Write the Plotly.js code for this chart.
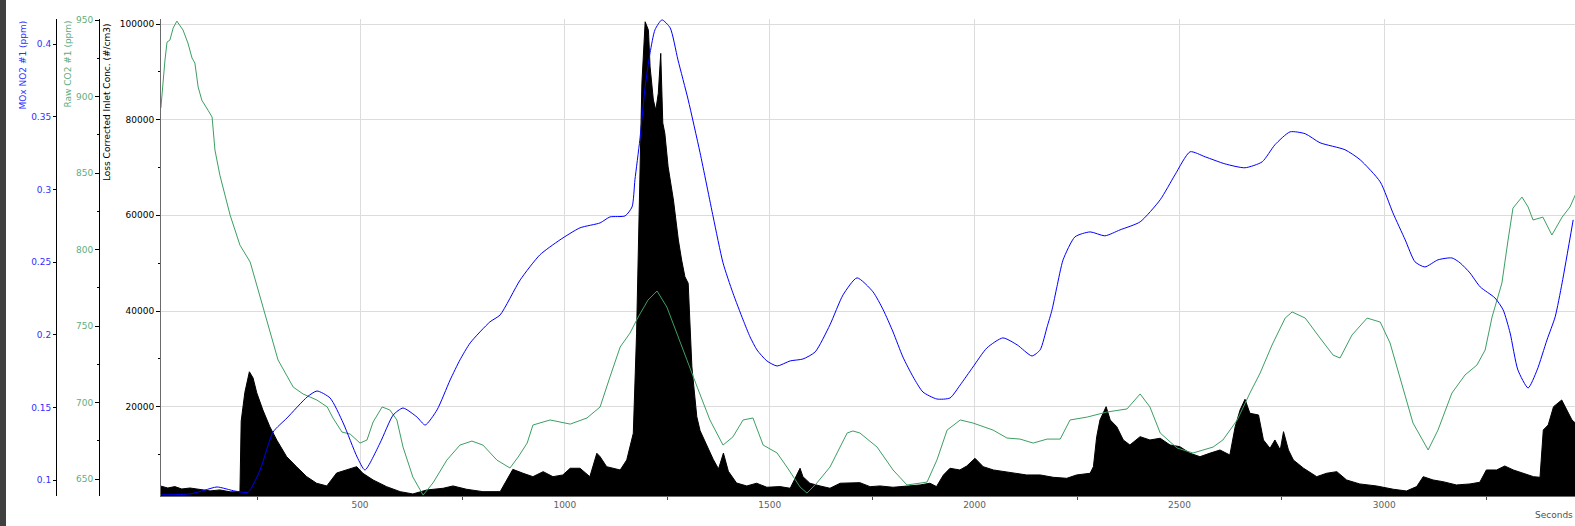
<!DOCTYPE html>
<html>
<head>
<meta charset="utf-8">
<script src="https://cdn.plot.ly/plotly-3.0.1.min.js"></script>
<style>html,body{margin:0;padding:0;background:#fff;}#chart{width:1575px;height:526px;}</style>
</head>
<body>
<div id="chart"></div>
<script>
// Loss corrected inlet concentration (#/cm3)
const concT = [14,31,48,65,85,109,134,158,183,207,210,219,230,239,248,263,280,297,321,345,370,394,419,443,468,492,507,532,565,598,629,663,703,727,760,800,842,858,873,898,922,947,971,995,1013,1037,1061,1078,1086,1102,1118,1135,1151,1167,1175,1182,1188,1196,1204,1208,1216,1222,1228,1234,1239,1244,1252,1265,1277,1285,1293,1301,1310,1322,1330,1346,1362,1375,1387,1399,1419,1444,1468,1493,1525,1550,1574,1581,1598,1623,1647,1672,1696,1720,1745,1769,1801,1834,1867,1891,1907,1924,1940,1964,1981,2001,2021,2046,2070,2095,2127,2160,2192,2225,2249,2282,2290,2298,2306,2321,2331,2347,2363,2379,2404,2428,2453,2477,2501,2526,2550,2575,2599,2623,2636,2648,2660,2672,2693,2705,2721,2733,2746,2754,2766,2778,2803,2835,2859,2884,2908,2940,2981,3022,3054,3079,3095,3119,3143,3176,3209,3233,3249,3274,3294,3315,3339,3364,3380,3388,3400,3413,3433,3445,3458,3466];
const concV = [3400,3000,3300,2800,3000,2700,2400,2600,2200,2200,17000,23000,27300,26000,22900,19300,15800,13000,9550,7460,5370,4000,3430,6140,6770,7460,6080,4680,3280,2240,1760,2590,2950,3430,2740,2240,2240,4680,6900,6080,5370,6420,5370,5730,7130,7130,5370,10260,9550,7460,7130,6770,8860,14440,35340,63200,87600,100470,98700,91060,84100,82000,85500,93860,79300,77140,70160,63200,54840,50660,47170,45800,28360,17900,15000,12000,9000,7000,10300,6500,4050,3430,4000,3160,3300,2950,7130,5370,4000,3430,2950,4000,4000,4120,3280,3430,3160,3430,3640,4000,3300,5730,7130,6770,7600,9210,7460,6770,6420,6080,5730,5730,5240,5030,5730,6080,7460,13730,17220,20000,17220,15820,13040,12000,13730,13040,13400,12000,11640,10260,9550,10300,10950,9900,15820,19310,21550,18620,18270,13040,11300,13040,10950,14780,10950,8860,7130,5370,6080,6420,4680,3850,3430,2740,2380,3300,5370,4680,4330,3640,3850,4200,6770,6770,7600,6770,6080,5370,5240,15130,16180,20000,21400,19310,17220,16600];

// Raw CO2 #1 (ppm)
const co2T = [14,19,24,29,36,44,53,68,80,90,97,105,114,129,139,146,158,183,207,232,251,276,300,337,361,395,420,434,456,476,500,517,532,554,573,590,605,629,654,678,712,744,773,800,834,866,886,908,922,964,1013,1054,1086,1110,1135,1159,1179,1203,1225,1249,1274,1298,1323,1354,1386,1410,1435,1459,1484,1518,1542,1574,1591,1615,1647,1689,1703,1720,1762,1801,1835,1884,1908,1933,1965,1996,2045,2079,2111,2143,2177,2209,2233,2275,2323,2372,2404,2428,2453,2494,2533,2582,2606,2641,2672,2697,2726,2758,2775,2807,2843,2875,2892,2921,2958,2990,3014,3038,3070,3107,3131,3165,3197,3226,3246,3263,3287,3302,3314,3336,3351,3363,3387,3409,3434,3453,3466];
const co2V = [892.5,910.8,923.9,935.6,936.9,944.8,949.3,943.5,935,925.2,921.9,906.2,897.6,891.1,886.6,865,848.6,822.5,802.9,791.8,773.5,750.7,727.8,710.1,705.6,701.6,697.1,689.9,680.7,679.4,673.5,675.5,687.3,697.1,695.1,688.6,670.9,651.3,639.5,647.4,662.4,672.2,674.8,672.2,662.4,657.2,664.4,673.5,685.3,688.6,685.9,689.9,697.1,716.7,736.3,745.4,755.9,767,772.9,762.4,745.4,727.8,710.1,688.6,672.2,677.5,688.6,689.9,672.2,667,657.8,644.8,640.8,647.4,657.8,680.1,681.4,680.1,670.9,655.9,646.1,648,662.4,682,688.6,686.6,682,676.8,676.1,673.5,676.1,676.1,688.6,690.5,693.8,695.8,705.6,697.1,680.1,670.3,667,670.9,675.5,688.6,706.2,719.3,737.6,755.2,759.2,755.2,742.2,731,729.1,744.1,755.2,752.6,738.9,716.7,686.6,669,682,706.2,718,724.5,734.3,755.9,778.1,806.2,827.1,834.3,827.8,819.3,821.2,809.5,821.2,827.8,835.6];

// MOx NO2 #1 (ppm)
const no2T = [14,85,122,151,195,227,256,288,322,371,395,427,459,493,512,549,581,605,639,659,688,720,744,769,817,842,891,939,988,1037,1086,1110,1147,1164,1171,1183,1196,1208,1220,1237,1257,1276,1301,1330,1362,1386,1410,1435,1452,1469,1493,1518,1550,1581,1611,1647,1679,1713,1752,1777,1801,1825,1850,1874,1908,1940,1965,1996,2030,2069,2104,2140,2160,2177,2189,2201,2216,2245,2282,2318,2355,2404,2453,2489,2526,2563,2611,2660,2702,2733,2770,2807,2843,2904,2941,2990,3021,3051,3075,3099,3131,3165,3185,3209,3234,3270,3290,3307,3326,3351,3373,3397,3417,3434,3461];
const no2V = [0.090,0.0906,0.0933,0.0954,0.0926,0.0919,0.1071,0.1332,0.1429,0.1573,0.1614,0.1566,0.1394,0.116,0.1071,0.1257,0.1449,0.1497,0.1435,0.138,0.1484,0.169,0.1828,0.1945,0.2089,0.2137,0.2378,0.255,0.2653,0.2736,0.277,0.2811,0.2818,0.288,0.3066,0.3341,0.3706,0.394,0.4098,0.4166,0.4111,0.3891,0.3616,0.3252,0.2811,0.2495,0.2289,0.2103,0.1986,0.1896,0.1821,0.1786,0.1821,0.1834,0.1883,0.2069,0.2275,0.2392,0.2296,0.2172,0.202,0.1848,0.1711,0.1607,0.1559,0.1566,0.1656,0.1779,0.191,0.1979,0.1931,0.1855,0.1897,0.2055,0.2172,0.2331,0.2516,0.2674,0.2708,0.2681,0.2722,0.2777,0.2929,0.31,0.3259,0.3224,0.3176,0.3149,0.319,0.3307,0.3396,0.3383,0.3321,0.3273,0.3204,0.3052,0.2839,0.2653,0.2502,0.2467,0.2516,0.2529,0.2495,0.2426,0.233,0.2254,0.2172,0.2013,0.1759,0.1635,0.1759,0.1965,0.2124,0.2358,0.2791];

const W = 1575, H = 526;
const FONT = "DejaVu Sans";
const BLUE = "#0000ff", BLUE_TXT = "#3030ff";
const GREEN = "#3c9f62", GREEN_TXT = "#5fae7f";

const traces = [
  {x: concT, y: concV, type: "scatter", mode: "lines", yaxis: "y",
   fill: "tozeroy", fillcolor: "#000000", line: {color: "#000000", width: 1}, hoverinfo: "skip"},
  {x: co2T, y: co2V, type: "scatter", mode: "lines", yaxis: "y2",
   line: {color: GREEN, width: 1}, hoverinfo: "skip"},
  {x: no2T, y: no2V, type: "scatter", mode: "lines", yaxis: "y3",
   line: {color: BLUE, width: 1, shape: "spline", smoothing: 0.6}, hoverinfo: "skip"}
];

const layout = {
  width: W, height: H, autosize: false,
  margin: {l: 0, r: 0, t: 19, b: 30, pad: 0},
  paper_bgcolor: "#ffffff", plot_bgcolor: "#ffffff",
  showlegend: false,
  font: {family: FONT, size: 9, color: "#000"},
  xaxis: {
    domain: [161 / W, 1], range: [14.3, 3465.4],
    tick0: 0, dtick: 500, ticks: "", showgrid: true, gridcolor: "#dcdcdc", gridwidth: 1,
    zeroline: false, showline: true, linecolor: "#6a6a6a", linewidth: 1,
    tickfont: {family: FONT, size: 9, color: "#606060"},
    minor: {dtick: 250, tick0: 0, ticks: "outside", ticklen: 3, tickcolor: "#444", showgrid: false},
    anchor: "y"
  },
  yaxis: {
    range: [1330, 101045], tick0: 0, dtick: 20000, ticks: "outside", ticklen: 4, tickcolor: "#000",
    tickformat: "d",
    showgrid: true, gridcolor: "#dcdcdc", gridwidth: 1, zeroline: false,
    showline: true, linecolor: "#6a6a6a", linewidth: 1,
    tickfont: {family: FONT, size: 9, color: "#000"},
    minor: {dtick: 10000, tick0: 0, ticks: "outside", ticklen: 2, tickcolor: "#000", showgrid: false},
    anchor: "x", side: "left"
  },
  yaxis2: {
    range: [638.9, 950.7], tick0: 0, dtick: 50, ticks: "outside", ticklen: 4, tickcolor: "#000",
    showgrid: false, zeroline: false, showline: true, linecolor: "#000", linewidth: 1,
    tickfont: {family: FONT, size: 9, color: GREEN_TXT},
    minor: {dtick: 25, tick0: 0, ticks: "outside", ticklen: 2, tickcolor: "#000", showgrid: false},
    overlaying: "y", anchor: "free", position: 99 / W, side: "left"
  },
  yaxis3: {
    range: [0.0892, 0.4172], tick0: 0, dtick: 0.05, ticks: "outside", ticklen: 3, tickcolor: "#000",
    showgrid: false, zeroline: false, showline: true, linecolor: "#000", linewidth: 1,
    tickfont: {family: FONT, size: 9, color: BLUE_TXT},
    overlaying: "y", anchor: "free", position: 56 / W, side: "left"
  },
  shapes: [
    {type: "rect", xref: "paper", yref: "paper", x0: 0, x1: 6 / W, y0: -40 / 477, y1: 1 + 30 / 477,
     fillcolor: "#404040", line: {width: 0}, layer: "above"}
  ],
  annotations: [
    {text: "MOx NO2 #1 (ppm)", xref: "paper", yref: "paper", x: 22 / W, y: 1, yshift: 0,
     xanchor: "center", yanchor: "top", textangle: -90, showarrow: false,
     font: {family: FONT, size: 9, color: BLUE_TXT}},
    {text: "Raw CO2 #1 (ppm)", xref: "paper", yref: "paper", x: 67 / W, y: 1, yshift: 0,
     xanchor: "center", yanchor: "top", textangle: -90, showarrow: false,
     font: {family: FONT, size: 9, color: GREEN_TXT}},
    {text: "Loss Corrected Inlet Conc. (#/cm3)", xref: "paper", yref: "paper", x: 107 / W, y: 1, yshift: -2,
     xanchor: "center", yanchor: "top", textangle: -90, showarrow: false,
     font: {family: FONT, size: 9, color: "#000"}},
    {text: "Seconds", xref: "paper", yref: "paper", x: 1, y: 0, yshift: -19,
     xanchor: "right", yanchor: "middle", showarrow: false,
     font: {family: FONT, size: 9, color: "#505050"}}
  ]
};

Plotly.newPlot("chart", traces, layout, {staticPlot: true, displayModeBar: false});
</script>
</body>
</html>
